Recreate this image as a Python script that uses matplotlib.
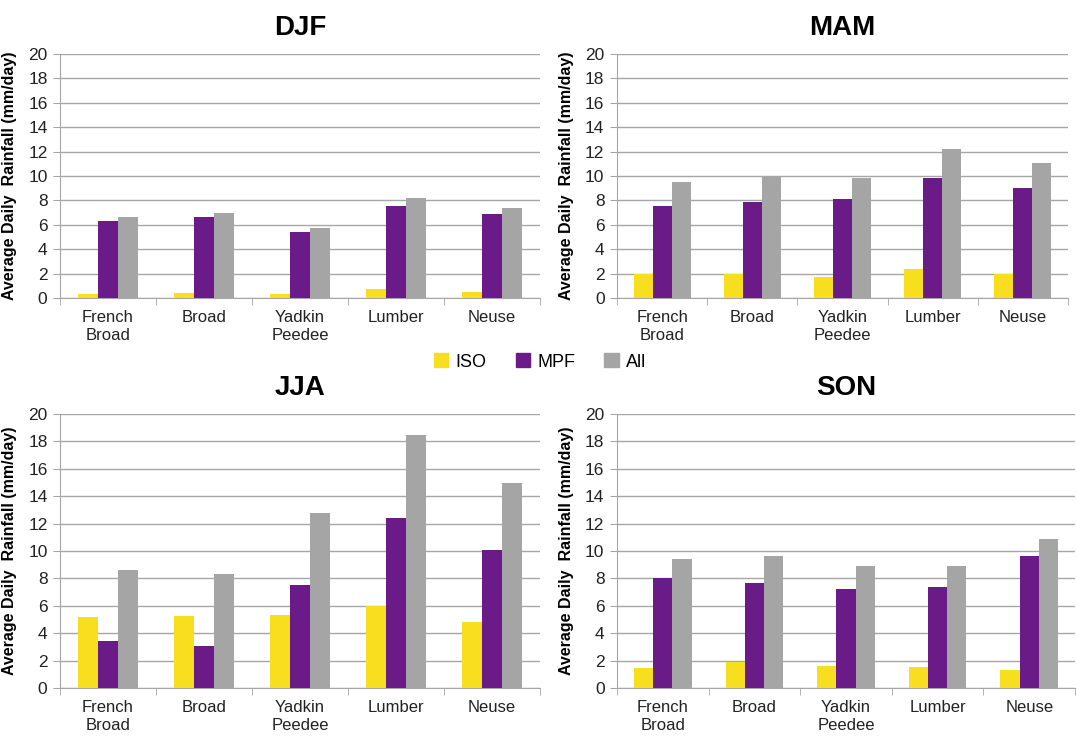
import numpy as np
import matplotlib
matplotlib.use("Agg")
import matplotlib.pyplot as plt
from matplotlib.patches import Patch

plt.rcParams['font.family'] = ['Liberation Sans', 'DejaVu Sans']

basins = ["French\nBroad", "Broad", "Yadkin\nPeedee", "Lumber", "Neuse"]
series = ["ISO", "MPF", "All"]
colors = ["#F7DE1F", "#6A1B87", "#A5A5A5"]

# average daily rainfall (mm/day) per season: ISO, MPF, All
djf_iso = [0.3, 0.4, 0.3, 0.7, 0.5]
djf_mpf = [6.3, 6.6, 5.4, 7.55, 6.85]
djf_all = [6.65, 7.0, 5.7, 8.2, 7.4]

mam_iso = [2.0, 2.0, 1.75, 2.4, 2.0]
mam_mpf = [7.5, 7.85, 8.15, 9.85, 9.05]
mam_all = [9.5, 9.9, 9.85, 12.2, 11.05]

jja_iso = [5.2, 5.25, 5.3, 6.0, 4.85]
jja_mpf = [3.45, 3.1, 7.55, 12.4, 10.1]
jja_all = [8.6, 8.35, 12.8, 18.45, 14.95]

son_iso = [1.45, 1.9, 1.6, 1.5, 1.35]
son_mpf = [8.0, 7.7, 7.25, 7.35, 9.6]
son_all = [9.45, 9.6, 8.9, 8.9, 10.9]

seasons = {
    "DJF": (djf_iso, djf_mpf, djf_all),
    "MAM": (mam_iso, mam_mpf, mam_all),
    "JJA": (jja_iso, jja_mpf, jja_all),
    "SON": (son_iso, son_mpf, son_all),
}

W, H = 1077, 740
fig = plt.figure(figsize=(W / 100, H / 100), dpi=100)

# axes boxes in pixels: left, top, right, bottom
boxes = {
    "DJF": (60, 54, 540, 298),
    "MAM": (617, 54, 1068, 298),
    "JJA": (60, 414, 540, 688),
    "SON": (617, 414, 1075, 688),
}

grid_c = "#A6A6A6"
x = np.arange(len(basins))
bw = 0.21

for name, vals in seasons.items():
    l, t, r, b = boxes[name]
    ax = fig.add_axes([l / W, 1 - b / H, (r - l) / W, (b - t) / H])
    for i, v in enumerate(vals):
        ax.bar(x + (i - 1) * bw, v, bw, color=colors[i], zorder=3)
    ax.set_xlim(-0.5, len(basins) - 0.5)
    ax.set_ylim(0, 20)
    ax.set_yticks(np.arange(0, 21, 2))
    ax.yaxis.grid(True, color=grid_c, linewidth=1)
    ax.set_axisbelow(True)
    ax.set_xticks(x)
    ax.set_xticklabels(basins, fontsize=12, color="#222222", linespacing=1.2)
    ax.set_xticks(np.arange(-0.5, len(basins)), minor=True)
    ax.tick_params(axis="x", which="major", length=0, pad=9)
    ax.tick_params(axis="x", which="minor", length=5, color=grid_c, direction="out")
    ax.tick_params(axis="y", length=5, color=grid_c, labelsize=12.5, labelcolor="#222222", pad=4)
    for s in ["top", "right"]:
        ax.spines[s].set_visible(False)
    for s in ["left", "bottom"]:
        ax.spines[s].set_color(grid_c)
    ax.set_ylabel("Average Daily  Rainfall (mm/day)", fontsize=11.5, fontweight="bold", labelpad=8)
    ax.set_title(name, fontsize=20, fontweight="bold", pad=14)

handles = [Patch(color=c, label=s) for c, s in zip(colors, series)]
fig.legend(handles=handles, loc="center", bbox_to_anchor=(540 / W, 1 - 362 / H), ncol=3,
           frameon=False, fontsize=13, handlelength=0.8, handleheight=0.8,
           handletextpad=0.4, columnspacing=1.6)

fig.savefig("out.png", dpi=100)
